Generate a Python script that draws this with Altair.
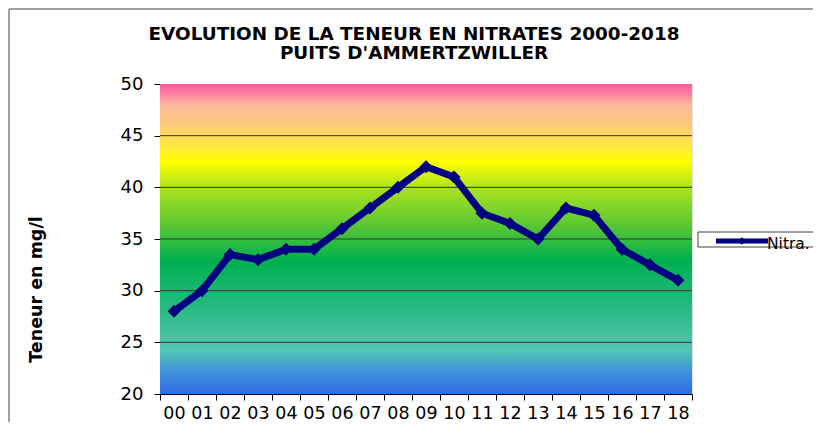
import altair as alt
import pandas as pd

# ---- data ----
years = ["00", "01", "02", "03", "04", "05", "06", "07", "08", "09",
         "10", "11", "12", "13", "14", "15", "16", "17", "18"]
nitrates = [28, 30, 33.5, 33, 34, 34, 36, 38, 40, 42,
            41, 37.5, 36.5, 35, 38, 37.3, 34, 32.5, 31]
y_ticks = [20, 25, 30, 35, 40, 45, 50]
grid_values = [25, 30, 35, 40, 45]
series_name = "Nitra."
title_lines = ["EVOLUTION DE LA TENEUR EN NITRATES 2000-2018",
               "PUITS D'AMMERTZWILLER"]
y_title = "Teneur en mg/l"

df = pd.DataFrame({"year": years, "value": nitrates})
grid_df = pd.DataFrame({"value": grid_values})
one = pd.DataFrame({"label": [series_name]})
title_df = pd.DataFrame({"t": ["\n".join(title_lines)]})

W, H = 532, 310
FONT = "DejaVu Sans"
NAVY = "#000080"

yscale = alt.Scale(domain=[20, 50], nice=False, zero=False)
xscale = alt.Scale(type="band", paddingInner=0, paddingOuter=0)

gradient = alt.LinearGradient(
    gradient="linear", x1=0, x2=0, y1=0, y2=1,
    stops=[
        alt.GradientStop(offset=0.00, color="#ff5c9a"),
        alt.GradientStop(offset=0.03, color="#ff7ea2"),
        alt.GradientStop(offset=0.07, color="#fcbb9a"),
        alt.GradientStop(offset=0.13, color="#fdc97a"),
        alt.GradientStop(offset=0.20, color="#ffe840"),
        alt.GradientStop(offset=0.25, color="#ffff00"),
        alt.GradientStop(offset=0.34, color="#a8e220"),
        alt.GradientStop(offset=0.45, color="#5ec832"),
        alt.GradientStop(offset=0.57, color="#00b050"),
        alt.GradientStop(offset=0.70, color="#22b87c"),
        alt.GradientStop(offset=0.82, color="#48c2a4"),
        alt.GradientStop(offset=0.86, color="#52c6b4"),
        alt.GradientStop(offset=0.93, color="#4090dc"),
        alt.GradientStop(offset=1.00, color="#2f6ee8"),
    ],
)

y_axis = alt.Axis(values=y_ticks, title=y_title, grid=False, labelFontSize=18,
                  labelFont=FONT, labelColor="black", labelPadding=11, tickSize=6,
                  tickColor="black", domainColor="black",
                  titleFont=FONT, titleFontSize=17.5, titleFontWeight="bold",
                  titleColor="black", titleX=-124, titleY=205, titleAngle=-90,
                  titleAlign="center", titleBaseline="middle")
x_axis = alt.Axis(title=None, tickBand="extent", labelAngle=0, labelFontSize=17.5,
                  labelFont=FONT, labelColor="black", labelPadding=4, tickSize=6,
                  labelBaseline="top", tickColor="black", domainColor="black",
                  grid=False)

x_enc = alt.X("year:O", sort=years, scale=xscale, bandPosition=0.5, axis=x_axis)
y_enc = alt.Y("value:Q", scale=yscale, axis=y_axis)

# outer chart frame (top and left edges, the others fall outside the picture)
frame_top = alt.Chart(one).mark_rule(color="#808080", strokeWidth=1.5).encode(
    x=alt.value(-151), x2=alt.value(653), y=alt.value(-75)
)
frame_left = alt.Chart(one).mark_rule(color="#808080", strokeWidth=1.5).encode(
    x=alt.value(-151), y=alt.value(-75), y2=alt.value(338)
)

title = alt.Chart(title_df).mark_text(
    font=FONT, fontSize=18.4, fontWeight="bold", color="black",
    align="center", baseline="alphabetic", lineBreak="\n", lineHeight=19
).encode(x=alt.value(254), y=alt.value(-44), text="t:N")

bg = alt.Chart(one).mark_rect(color=gradient).encode(
    x=alt.value(0), x2=alt.value(W), y=alt.value(0), y2=alt.value(H)
)

grid = alt.Chart(grid_df).mark_rule(color="#333333", strokeWidth=1).encode(
    y=y_enc
)

line = alt.Chart(df).mark_line(color=NAVY, strokeWidth=7).encode(x=x_enc, y=y_enc)
pts = alt.Chart(df).mark_point(shape="diamond", filled=True, color=NAVY,
                               size=170, opacity=1).encode(x=x_enc, y=y_enc)

leg_box = alt.Chart(one).mark_rect(fill="white", stroke="#404040",
                                   strokeWidth=1).encode(
    x=alt.value(538), x2=alt.value(700), y=alt.value(148), y2=alt.value(163)
)
leg_line = alt.Chart(one).mark_rule(color=NAVY, strokeWidth=5).encode(
    x=alt.value(556), x2=alt.value(608), y=alt.value(157)
)
leg_pt = alt.Chart(one).mark_point(shape="diamond", filled=True, color=NAVY,
                                   size=60, opacity=1).encode(
    x=alt.value(582), y=alt.value(157)
)
leg_txt = alt.Chart(one).mark_text(align="left", baseline="alphabetic",
                                   font=FONT, fontSize=15.5, color="black").encode(
    x=alt.value(607), y=alt.value(165), text="label:N"
)

chart = alt.layer(
    frame_top, frame_left, title, bg, grid, line, pts,
    leg_box, leg_line, leg_pt, leg_txt
).properties(
    width=W, height=H,
    autosize=alt.AutoSizeParams(type="none"),
    padding={"left": 152, "top": 76, "right": 121, "bottom": 28},
).configure_view(
    stroke="#808080", strokeWidth=2
).configure(background="white")

chart.save("out.html", embed_options={"renderer": "svg", "actions": False})
